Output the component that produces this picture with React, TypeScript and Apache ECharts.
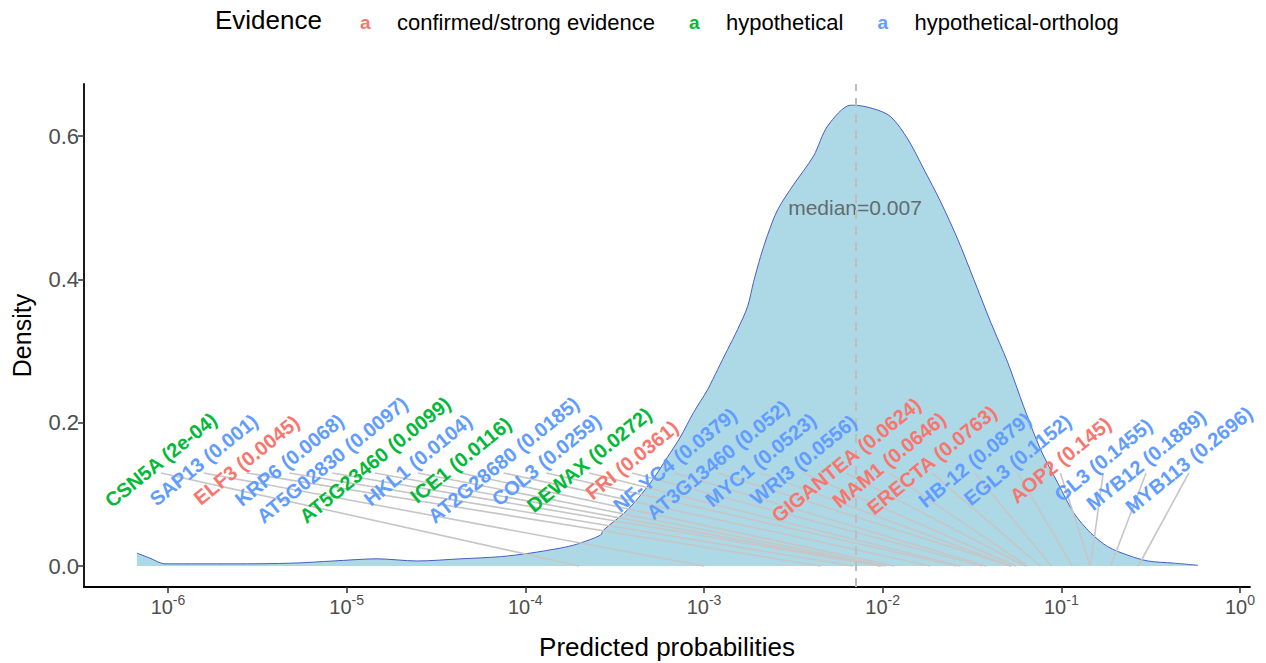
import React, { useEffect, useRef } from "react";
import * as echarts from "echarts";

// ---------- data ----------
// density curve of log10(predicted probability)
const CURVE_LOGX = [
  -6.174, -6.101, -6.017, -5.821, -5.636, -5.3, -5.076, -4.829, -4.605, -4.364,
  -4.14, -3.972, -3.804, -3.731, -3.692, -3.58, -3.563, -3.429, -3.3, -3.204,
  -3.132, -3.059, -2.98, -2.924, -2.868, -2.812, -2.756, -2.723, -2.683, -2.644,
  -2.588, -2.499, -2.387, -2.308, -2.179, -2.162, -2.05, -1.955, -1.86, -1.77,
  -1.675, -1.58, -1.49, -1.395, -1.3, -1.21, -1.115, -1.02, -0.93, -0.835,
  -0.74, -0.627, -0.515, -0.37, -0.235,
];
const CURVE_DENSITY = [
  0.018, 0.011, 0.003, 0.003, 0.003, 0.004, 0.007, 0.01, 0.007, 0.01,
  0.013, 0.018, 0.025, 0.029, 0.032, 0.043, 0.05, 0.078, 0.116, 0.152,
  0.18, 0.214, 0.246, 0.274, 0.302, 0.33, 0.362, 0.396, 0.432, 0.462,
  0.497, 0.532, 0.572, 0.614, 0.643, 0.643, 0.638, 0.627, 0.596, 0.554,
  0.508, 0.456, 0.4, 0.34, 0.284, 0.222, 0.162, 0.116, 0.074, 0.046,
  0.027, 0.015, 0.007, 0.004, 0.001,
];

const GENES = [
  "CSN5A", "SAP13", "ELF3", "KRP6", "AT5G02830", "AT5G23460", "HKL1", "ICE1",
  "AT2G28680", "COL3", "DEWAX", "FRI", "NF-YC4", "AT3G13460", "MYC1", "WRI3",
  "GIGANTEA", "MAM1", "ERECTA", "HB-12", "EGL3", "AOP2", "GL3", "MYB12", "MYB113",
];
const PROBS = [
  0.0002, 0.001, 0.0045, 0.0068, 0.0097, 0.0099, 0.0104, 0.0116,
  0.0185, 0.0259, 0.0272, 0.0361, 0.0379, 0.052, 0.0523, 0.0556,
  0.0624, 0.0646, 0.0763, 0.0879, 0.1152, 0.145, 0.1455, 0.1889, 0.2696,
];
const EVIDENCE = [
  "hypothetical", "hypothetical-ortholog", "confirmed/strong evidence", "hypothetical-ortholog",
  "hypothetical-ortholog", "hypothetical", "hypothetical-ortholog", "hypothetical",
  "hypothetical-ortholog", "hypothetical-ortholog", "hypothetical", "confirmed/strong evidence",
  "hypothetical-ortholog", "hypothetical-ortholog", "hypothetical-ortholog", "hypothetical-ortholog",
  "confirmed/strong evidence", "confirmed/strong evidence", "confirmed/strong evidence", "hypothetical-ortholog",
  "hypothetical-ortholog", "confirmed/strong evidence", "hypothetical-ortholog", "hypothetical-ortholog",
  "hypothetical-ortholog",
];
const CATEGORIES = ["confirmed/strong evidence", "hypothetical", "hypothetical-ortholog"];
const CATEGORY_COLORS = ["#F8766D", "#00BA38", "#619CFF"];

const MEDIAN = 0.007;
const X_TICKS = [-6, -5, -4, -3, -2, -1, 0];
const Y_TICKS = [0, 0.2, 0.4, 0.6];

// ---------- layout ----------
const FONT = "'Liberation Sans', Arial, Helvetica, sans-serif";
const X_MIN = -6.47;
const X_MAX = 0.056;
const Y_MIN = -0.0293;
const Y_MAX = 0.6726;
const LABEL_START = -6.04; // repelled labels spread evenly along a row
const LABEL_END = -0.286;
const LABEL_Y = 0.148;
const LABEL_ANGLE = 39;
const MEDIAN_LABEL_Y = 0.5;

function fmtProb(v: number): string {
  if (v < 0.001) {
    const [m, e] = v.toExponential().split("e");
    return `${m}e${e[0]}${e.slice(1).padStart(2, "0")}`;
  }
  return String(v);
}

export default function App() {
  const ref = useRef<HTMLDivElement>(null);

  useEffect(() => {
    if (!ref.current) return;
    const chart = echarts.init(ref.current, undefined, { renderer: "svg" });
    const n = GENES.length;
    const step = (LABEL_END - LABEL_START) / (n - 1);

    const segData = PROBS.map((p, i) => [Math.log10(p), 0, i]);

    const labelSeries = CATEGORIES.map((cat, ci) => {
      const idxs = GENES.map((_, i) => i).filter((i) => EVIDENCE[i] === cat);
      return {
        type: "custom",
        name: cat,
        z: 5,
        data: idxs.map((i) => [Math.log10(PROBS[i]), 0, i]),
        renderItem: (params: any, api: any) => {
          const gi = idxs[params.dataIndex];
          const c = api.coord([LABEL_START + gi * step, LABEL_Y]);
          return {
            type: "text",
            x: c[0],
            y: c[1],
            rotation: (LABEL_ANGLE * Math.PI) / 180,
            style: {
              text: `${GENES[gi]} (${fmtProb(PROBS[gi])})`,
              fill: CATEGORY_COLORS[ci],
              fontSize: 20,
              fontWeight: "bold",
              fontFamily: FONT,
              align: "center",
              verticalAlign: "middle",
            },
          };
        },
      };
    });

    const aStyle = (c: string) => ({
      color: c,
      fontSize: 19,
      fontWeight: "bold",
      width: 37,
      fontFamily: FONT,
    });

    const option: any = {
      animation: false,
      color: CATEGORY_COLORS,
      textStyle: { fontFamily: FONT },
      grid: { left: 84, right: 16, top: 84, bottom: 76, outerBoundsMode: "none" },
      legend: {
        left: 350,
        top: 6,
        itemWidth: 0,
        itemHeight: 0,
        itemGap: 29,
        data: CATEGORIES.map((c) => ({ name: c, icon: "none" })),
        formatter: (name: string) => `{a${CATEGORIES.indexOf(name)}|a}{t|${name}}`,
        textStyle: {
          rich: {
            a0: aStyle(CATEGORY_COLORS[0]),
            a1: aStyle(CATEGORY_COLORS[1]),
            a2: aStyle(CATEGORY_COLORS[2]),
            t: { fontSize: 22, color: "#000", fontFamily: FONT },
          },
        },
      },
      graphic: [
        {
          type: "text",
          left: 215,
          top: 7,
          style: { text: "Evidence", fontSize: 26, fill: "#000", fontFamily: FONT },
        },
      ],
      xAxis: {
        type: "value",
        min: X_MIN,
        max: X_MAX,
        name: "Predicted probabilities",
        nameLocation: "middle",
        nameGap: 47,
        nameTextStyle: { fontSize: 26, color: "#000", fontFamily: FONT },
        axisLine: { onZero: false, lineStyle: { color: "#000", width: 1.8 } },
        axisTick: { customValues: X_TICKS, length: 6, lineStyle: { color: "#333", width: 1.5 } },
        axisLabel: {
          customValues: X_TICKS,
          margin: 6,
          formatter: (v: number) => `{b|10}{s|${Math.round(v)}}`,
          rich: {
            b: { fontSize: 20, lineHeight: 28, color: "#4d4d4d", fontFamily: FONT },
            s: { fontSize: 14, lineHeight: 14, verticalAlign: "top", color: "#4d4d4d", fontFamily: FONT },
          },
        },
        splitLine: { show: false },
      },
      yAxis: {
        type: "value",
        min: Y_MIN,
        max: Y_MAX,
        name: "Density",
        nameLocation: "middle",
        nameGap: 50,
        nameRotate: 90,
        nameTextStyle: { fontSize: 25, color: "#000", fontFamily: FONT },
        axisLine: { show: true, onZero: false, lineStyle: { color: "#000", width: 1.8 } },
        axisTick: { show: true, customValues: Y_TICKS, length: 6, lineStyle: { color: "#333", width: 1.5 } },
        axisLabel: {
          customValues: Y_TICKS,
          margin: 5,
          fontSize: 22,
          color: "#4d4d4d",
          formatter: (v: number) => v.toFixed(1),
        },
        splitLine: { show: false },
      },
      series: [
        {
          type: "line",
          name: "density",
          z: 1,
          data: CURVE_LOGX.map((x, i) => [x, CURVE_DENSITY[i]]),
          showSymbol: false,
          smooth: 0.3,
          lineStyle: { color: "#4b5cc4", width: 1 },
          areaStyle: { color: "#ADD8E6", opacity: 1 },
          markLine: {
            silent: true,
            symbol: ["none", "none"],
            label: { show: false },
            lineStyle: { type: [9, 7], color: "#bdbdbd", width: 2 },
            data: [{ xAxis: Math.log10(MEDIAN) }],
          },
        },
        {
          type: "scatter",
          name: "median",
          z: 3,
          symbolSize: 1,
          itemStyle: { color: "rgba(0,0,0,0)" },
          data: [[Math.log10(MEDIAN), MEDIAN_LABEL_Y]],
          label: {
            show: true,
            position: "inside",
            formatter: `median=${MEDIAN}`,
            fontSize: 21,
            color: "#4d4d4d",
            fontFamily: FONT,
          },
        },
        {
          type: "custom",
          name: "segments",
          z: 4,
          data: segData,
          renderItem: (params: any, api: any) => {
            const p0 = api.coord([api.value(0), 0]);
            const gi = api.value(2);
            const c = api.coord([LABEL_START + gi * step, LABEL_Y]);
            return {
              type: "line",
              shape: { x1: p0[0], y1: p0[1], x2: c[0], y2: c[1] + 13 },
              style: { stroke: "#c6c6c6", lineWidth: 1.6 },
            };
          },
        },
        ...labelSeries,
      ],
    };
    chart.setOption(option);
    return () => chart.dispose();
  }, []);

  return (
    <div
      ref={ref}
      style={{ position: "fixed", left: 0, top: 0, width: 1266, height: 663, background: "#fff" }}
    />
  );
}
